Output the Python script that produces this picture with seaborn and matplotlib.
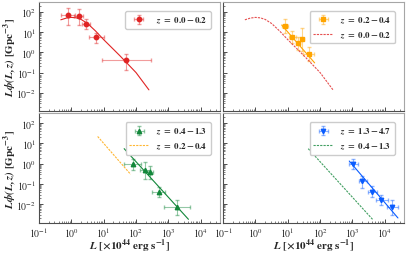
import numpy as np
import pandas as pd
import matplotlib
matplotlib.use('Agg')
import matplotlib.pyplot as plt
import seaborn as sns
from matplotlib.ticker import LogLocator, NullFormatter

# binned luminosity function
red_L = [0.81, 1.69, 2.9, 5.8, 50]
red_phi = [69, 59, 25, 6.0, 0.40]
red_L_lo = [0.49, 1.24, 2.1, 3.4, 8.7]
red_L_hi = [1.33, 2.37, 3.8, 10, 295]
red_phi_lo = [23, 22.4, 14.4, 2.8, 0.14]
red_phi_hi = [158, 135, 44, 8.7, 0.83]

orange_L = [8.2, 13.3, 20.6, 28, 45]
orange_phi = [20, 6.0, 2.8, 4.5, 0.83]
orange_L_lo = [6.6, 10.6, 17.5, 25, 30]
orange_L_hi = [10.5, 18, 24, 32, 66]
orange_phi_lo = [8.7, 2.8, 1.35, 1.2, 0.36]
orange_phi_hi = [44, 11.5, 6.0, 15.5, 1.74]

green_L = [83, 191, 275, 500, 1860]
green_phi = [1.0, 0.48, 0.40, 0.042, 0.0072]
green_L_lo = [43, 135, 230, 310, 760]
green_L_hi = [145, 280, 330, 810, 4700]
green_phi_lo = [0.50, 0.17, 0.18, 0.022, 0.0028]
green_phi_hi = [1.78, 1.15, 0.80, 0.069, 0.0155]

blue_L = [1050, 2050, 4000, 7800, 17000]
blue_phi = [0.95, 0.14, 0.042, 0.016, 0.0071]
blue_L_lo = [790, 1550, 2950, 5400, 11700]
blue_L_hi = [1450, 2750, 5600, 12300, 25000]
blue_phi_lo = [0.54, 0.062, 0.022, 0.0095, 0.0031]
blue_phi_hi = [1.66, 0.25, 0.078, 0.027, 0.0155]

# model curves
red_fit_L = [0.47, 0.71, 1.0, 1.41, 2.0, 3.16, 5.6, 10, 31.6, 100, 251]
red_fit_phi = [40, 49, 52.5, 50, 41.7, 26.3, 11.2, 4.2, 0.68, 0.10, 0.014]
orange_fit_L = [6.5, 68]
orange_fit_phi = [22, 0.30]
green_fit_L = [43, 4200]
green_fit_phi = [5.5, 0.0018]
blue_fit_L = [800, 25700]
blue_fit_phi = [1.35, 0.0021]

labels = [r'$\mathbfit{z}\ \mathbf{=\ 0.0 - 0.2}$',
          r'$\mathbfit{z}\ \mathbf{=\ 0.2 - 0.4}$',
          r'$\mathbfit{z}\ \mathbf{=\ 0.4 - 1.3}$',
          r'$\mathbfit{z}\ \mathbf{=\ 1.3 - 4.7}$']
colors = ['#e02424', '#ffa500', '#12873a', '#0a5cff']
markers = ['o', 's', '^', 'v']

sns.set_theme(style='ticks')
plt.rcParams['font.family'] = ['STIXGeneral', 'DejaVu Serif']
plt.rcParams['mathtext.fontset'] = 'stix'

data = [
    (red_L, red_phi, red_L_lo, red_L_hi, red_phi_lo, red_phi_hi, red_fit_L, red_fit_phi),
    (orange_L, orange_phi, orange_L_lo, orange_L_hi, orange_phi_lo, orange_phi_hi, orange_fit_L, orange_fit_phi),
    (green_L, green_phi, green_L_lo, green_L_hi, green_phi_lo, green_phi_hi, green_fit_L, green_fit_phi),
    (blue_L, blue_phi, blue_L_lo, blue_L_hi, blue_phi_lo, blue_phi_hi, blue_fit_L, blue_fit_phi),
]

fig, axes = plt.subplots(2, 2, figsize=(4.07, 2.55), dpi=100, sharex=True, sharey=True)
fig.subplots_adjust(left=0.096, right=0.993, top=0.988, bottom=0.122, wspace=0.017, hspace=0.018)

for i, ax in enumerate(axes.flat):
    L, phi, Llo, Lhi, plo, phi_hi, fL, fphi = data[i]
    L = np.array(L); phi = np.array(phi)
    xerr = [L - np.array(Llo), np.array(Lhi) - L]
    yerr = [phi - np.array(plo), np.array(phi_hi) - phi]
    ax.set_xscale('log'); ax.set_yscale('log')
    eb = ax.errorbar(L, phi, xerr=xerr, yerr=yerr, fmt=markers[i], color=colors[i],
                     ms=3.2, elinewidth=0.8, capsize=1.5, ecolor=colors[i], label=labels[i])
    for part in eb[1] + eb[2]:
        part.set_alpha(0.45)
    fit = pd.DataFrame({'L': fL, 'phi': fphi})
    sns.lineplot(data=fit, x='L', y='phi', ax=ax, color=colors[i], lw=0.8)
    handles = [eb]
    if i > 0:
        prev = data[i - 1]
        prev_fit = pd.DataFrame({'L': prev[6], 'phi': prev[7]})
        sns.lineplot(data=prev_fit, x='L', y='phi', ax=ax, color=colors[i - 1], lw=0.8,
                     linestyle=(0, (2, 1)), alpha=0.8)
        handles.append(ax.lines[-1])
    ax.legend(handles=handles, labels=[labels[i]] + ([labels[i - 1]] if i > 0 else []),
              loc='upper right', fontsize=6.5, borderaxespad=1.0, handlelength=2.2,
              framealpha=1, edgecolor='0.8', fancybox=True)
    ax.set_xlim(0.1, 4e4)
    ax.set_ylim(1.2e-3, 3e2)
    ax.xaxis.set_major_locator(LogLocator(base=10, numticks=10))
    ax.xaxis.set_minor_locator(LogLocator(base=10, subs=np.arange(2, 10), numticks=20))
    ax.xaxis.set_minor_formatter(NullFormatter())
    ax.yaxis.set_major_locator(LogLocator(base=10, numticks=10))
    ax.yaxis.set_minor_locator(LogLocator(base=10, subs=np.arange(2, 10), numticks=20))
    ax.yaxis.set_minor_formatter(NullFormatter())
    ax.tick_params(which='both', direction='in', labelsize=7, pad=2, color='0.3')
    ax.tick_params(which='major', length=3, width=0.7)
    ax.tick_params(which='minor', length=1.6, width=0.5)
    for s in ['left', 'bottom']:
        ax.spines[s].set_color('0.3')
        ax.spines[s].set_linewidth(0.8)
    for s in ['top', 'right']:
        ax.spines[s].set_color('0.65')
        ax.spines[s].set_linewidth(0.8)
    ax.set_xlabel('')
    ax.set_ylabel('')

ylab = r'$\mathbfit{L\phi(L,z)}\ \mathbf{[Gpc^{-3}]}$'
xlab = r'$\mathbfit{L}\ \mathbf{[\times 10^{44}\ erg\ s^{-1}]}$'
for ax in axes[:, 0]:
    ax.set_ylabel(ylab, fontsize=8, labelpad=-1)
for ax in axes[1, :]:
    ax.set_xlabel(xlab, fontsize=8, labelpad=-1.5)

fig.savefig('out.png', dpi=100)
